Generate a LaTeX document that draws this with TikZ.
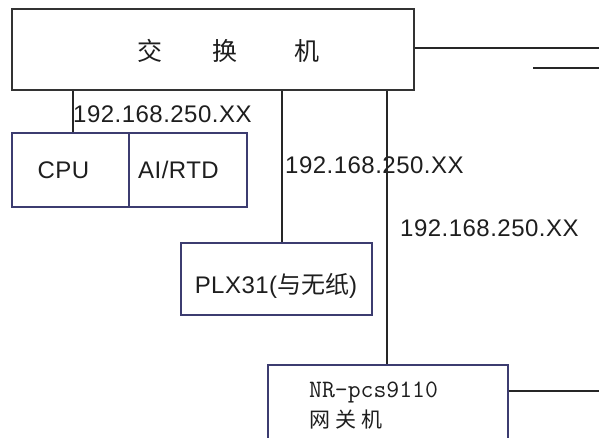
\documentclass[tikz,border=0pt]{standalone}
\usepackage{fontspec}
\setmainfont{Liberation Sans}
\newfontfamily\cjk{Noto Sans CJK SC}
\newfontfamily\monof{Latin Modern Mono}
\definecolor{boxcol}{RGB}{60,60,112}
\definecolor{txtcol}{RGB}{30,30,30}
\begin{document}
\begin{tikzpicture}[x=1pt,y=-1pt,
  wire/.style={line width=1.3pt,draw=black!85},
  swbox/.style={draw=black!80,line width=1.3pt,minimum width=402pt,minimum height=81pt,inner sep=0pt},
  devbox/.style={draw=boxcol,line width=1.3pt,inner sep=0pt},
  lab/.style={text=txtcol,inner sep=0pt,font=\fontsize{24}{28}\selectfont\addfontfeature{LetterSpace=2}},
  cjklab/.style={text=txtcol,inner sep=0pt,font=\fontsize{25}{29}\selectfont\cjk}]
\useasboundingbox (0,0) rectangle (599,437);
\clip (0,0) rectangle (599,437);
\fill[white] (0,0) rectangle (599,437);
% switch
\node[swbox] (sw) at (213,49.5) {};
\node[cjklab,anchor=west] (swt) at (137.5,51) {交\hspace{50pt}换\hspace{57pt}机};
% CPU / AI
\node[devbox,minimum width=117pt,minimum height=74pt] (cpu) at (70.5,170) {};
\node[devbox,minimum width=118pt,minimum height=74pt] (ai) at (188,170) {};
\node[lab] (cput) at (63.5,170) {CPU};
\node[lab] (ait) at (178.5,170) {AI/RTD};
% PLX
\node[devbox,minimum width=191pt,minimum height=72pt] (plx) at (276.5,279) {};
\node[lab] (plxt) at (276,286) {PLX31(\cjk 与无纸\rmfamily\addfontfeature{LetterSpace=2})};
% NR
\node[devbox,minimum width=240pt,minimum height=110pt] (nr) at (388,420) {};
\node[anchor=west,inner sep=0pt,text=txtcol,font=\fontsize{25}{29}\selectfont\monof] (nrt1) at (309,392) {NR-pcs9110};
\node[anchor=west,inner sep=0pt,text=txtcol,font=\fontsize{21}{25}\selectfont\cjk] (nrt2) at (309,420) {网\hspace{5pt}关\hspace{5pt}机};
% labels
\node[lab,anchor=west] (l1) at (73,114.5) {192.168.250.XX};
\node[lab,anchor=west] (l2) at (285,165) {192.168.250.XX};
\node[lab,anchor=west] (l3) at (400,228.5) {192.168.250.XX};
% connectors
\coordinate (x1) at (73,0);
\coordinate (x2) at (282,0);
\coordinate (x3) at (387,0);
\draw[wire] (sw.south -| x1) -- (cpu.north -| x1);
\draw[wire] (sw.south -| x2) -- (plx.north -| x2);
\draw[wire] (sw.south -| x3) -- (nr.north -| x3);
\coordinate (e1) at (599,48);
\coordinate (s1) at (533,68);
\coordinate (s2) at (599,68);
\coordinate (e2) at (599,391);
\draw[wire] (sw.east |- e1) -- (e1);
\draw[wire] (s1) -- (s2);
\draw[wire] (nr.east |- e2) -- (e2);
\end{tikzpicture}
\end{document}
